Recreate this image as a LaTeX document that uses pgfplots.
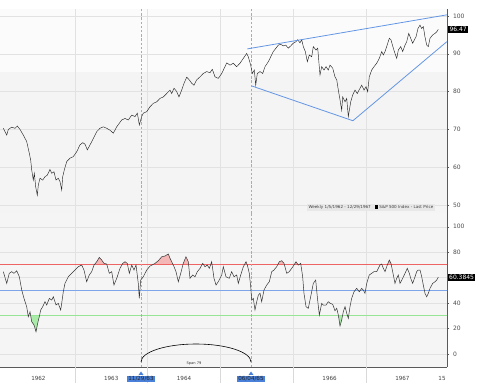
\documentclass[border=0pt]{standalone}
\usepackage{pgfplots}
\usepackage{pgfplotstable}
\pgfplotsset{compat=1.18}
\usepackage{fontspec}
\setmainfont{DejaVu Sans}
\definecolor{trend}{RGB}{100,150,228}
\definecolor{gridc}{RGB}{226,226,226}
\definecolor{boxblue}{RGB}{72,128,218}
\definecolor{rline}{RGB}{238,100,100}
\definecolor{bline}{RGB}{125,165,232}
\definecolor{rfill}{RGB}{245,182,182}
\definecolor{gfill}{RGB}{170,235,170}
\definecolor{axc}{RGB}{90,90,90}

\pgfplotstableread{
x y
1962.018 70.3
1962.065 68.5
1962.087 70.0
1962.133 70.6
1962.179 70.3
1962.210 70.9
1962.247 70.0
1962.293 68.5
1962.339 66.8
1962.375 63.7
1962.394 61.9
1962.408 59.3
1962.430 56.6
1962.444 58.4
1962.463 54.8
1962.485 52.6
1962.499 55.3
1962.522 57.1
1962.559 56.6
1962.591 57.5
1962.622 57.9
1962.659 59.4
1962.683 58.4
1962.714 58.8
1962.742 56.6
1962.773 57.1
1962.797 56.2
1962.820 54.0
1962.834 57.5
1962.856 59.3
1962.889 61.5
1962.934 62.4
1962.979 62.8
1963.026 64.1
1963.071 65.9
1963.109 66.5
1963.140 66.1
1963.172 64.6
1963.209 65.9
1963.254 67.6
1963.301 69.4
1963.346 70.3
1963.391 70.7
1963.438 70.3
1963.484 69.8
1963.529 69.0
1963.576 70.7
1963.644 72.5
1963.690 72.9
1963.735 72.5
1963.782 73.8
1963.827 73.4
1963.859 74.3
1963.886 71.2
1963.919 73.4
1963.941 74.3
1963.988 74.7
1964.033 76.0
1964.078 76.9
1964.125 77.3
1964.170 78.2
1964.216 78.6
1964.262 79.5
1964.308 80.4
1964.331 79.5
1964.363 80.9
1964.400 80.0
1964.431 78.6
1964.468 80.4
1964.500 82.2
1964.537 83.8
1964.573 83.1
1964.606 82.2
1964.637 81.7
1964.674 83.1
1964.720 83.9
1964.765 84.8
1964.812 85.3
1964.857 85.0
1964.889 85.9
1964.926 83.9
1964.971 83.5
1965.018 84.8
1965.063 86.6
1965.087 87.6
1965.132 87.0
1965.177 87.5
1965.224 86.6
1965.269 87.5
1965.315 88.8
1965.361 90.1
1965.383 89.2
1965.416 87.0
1965.438 84.8
1965.466 85.7
1965.485 81.7
1965.507 84.8
1965.544 85.3
1965.581 84.8
1965.613 86.6
1965.658 87.9
1965.691 89.2
1965.727 90.6
1965.764 91.5
1965.795 92.3
1965.828 92.5
1965.864 92.1
1965.897 92.3
1965.933 91.5
1965.966 92.1
1966.001 92.8
1966.038 93.2
1966.062 93.7
1966.093 92.9
1966.117 93.7
1966.139 91.9
1966.166 90.6
1966.194 87.9
1966.221 89.7
1966.254 89.2
1966.276 91.9
1966.313 91.0
1966.337 91.5
1966.354 87.5
1966.368 84.4
1966.391 86.6
1966.423 85.7
1966.451 86.6
1966.482 85.7
1966.505 87.0
1966.543 86.2
1966.574 83.9
1966.598 83.1
1966.620 80.4
1966.643 77.8
1966.666 75.1
1966.680 78.6
1966.712 77.3
1966.735 78.2
1966.757 73.4
1966.771 75.1
1966.790 77.3
1966.817 79.1
1966.849 80.4
1966.880 79.5
1966.918 80.9
1966.941 81.7
1966.973 80.4
1967.000 81.3
1967.023 80.0
1967.045 83.9
1967.078 85.7
1967.110 86.6
1967.147 87.5
1967.183 88.8
1967.216 90.6
1967.238 89.7
1967.261 90.6
1967.284 91.9
1967.320 94.1
1967.343 93.7
1967.375 91.5
1967.398 90.1
1967.422 88.8
1967.444 91.0
1967.477 91.9
1967.504 90.6
1967.536 92.3
1967.559 93.2
1967.587 95.4
1967.614 94.1
1967.641 92.8
1967.664 93.7
1967.687 94.5
1967.714 96.7
1967.742 97.6
1967.765 96.7
1967.787 97.2
1967.810 94.5
1967.834 92.3
1967.856 91.9
1967.879 94.1
1967.916 95.0
1967.948 95.4
1967.971 95.8
1967.993 96.47
}\pricetable

\pgfplotstableread{
x y
1962.018 64.7
1962.065 55.5
1962.100 63.4
1962.133 64.7
1962.165 63.4
1962.202 65.4
1962.238 60.7
1962.271 50.3
1962.302 43.7
1962.339 37.2
1962.361 29.3
1962.385 33.2
1962.408 25.4
1962.440 22.8
1962.467 17.5
1962.490 24.1
1962.512 29.3
1962.532 34.6
1962.559 37.2
1962.591 41.1
1962.614 38.5
1962.650 43.7
1962.683 42.4
1962.705 45.0
1962.742 38.5
1962.773 39.8
1962.806 34.6
1962.820 39.8
1962.842 48.9
1962.865 55.5
1962.911 60.7
1962.957 63.4
1963.003 66.0
1963.048 68.6
1963.095 69.9
1963.126 66.0
1963.163 56.8
1963.199 62.1
1963.232 64.7
1963.264 69.9
1963.301 72.5
1963.337 75.9
1963.370 73.8
1963.401 71.2
1963.438 70.7
1963.474 63.4
1963.507 64.7
1963.538 54.2
1963.576 59.5
1963.621 67.3
1963.658 71.2
1963.690 72.5
1963.721 71.2
1963.749 63.4
1963.782 69.9
1963.813 66.0
1963.841 69.9
1963.872 55.5
1963.886 43.7
1963.905 58.1
1963.941 60.7
1963.988 66.0
1964.033 69.1
1964.102 71.2
1964.147 73.3
1964.194 76.4
1964.239 77.0
1964.262 77.8
1964.284 78.6
1964.308 75.2
1964.331 72.5
1964.363 68.6
1964.390 64.7
1964.422 56.8
1964.455 63.4
1964.490 71.2
1964.527 76.4
1964.559 72.5
1964.582 59.5
1964.620 62.1
1964.651 60.7
1964.683 64.7
1964.720 67.3
1964.757 71.2
1964.788 68.6
1964.820 69.9
1964.848 67.3
1964.880 72.5
1964.912 59.5
1964.940 54.2
1964.971 56.8
1965.018 62.1
1965.040 68.6
1965.077 60.7
1965.122 59.5
1965.155 64.7
1965.187 60.7
1965.224 62.1
1965.246 55.5
1965.279 62.1
1965.315 68.6
1965.352 72.5
1965.370 69.9
1965.397 63.4
1965.416 52.9
1965.430 42.4
1965.452 43.7
1965.475 34.6
1965.499 41.1
1965.521 46.3
1965.544 47.7
1965.567 41.1
1965.599 50.3
1965.636 54.2
1965.672 56.8
1965.705 64.7
1965.736 66.0
1965.773 68.6
1965.809 72.5
1965.842 73.3
1965.874 71.2
1965.911 63.4
1965.946 64.7
1965.979 67.3
1966.011 69.9
1966.038 72.5
1966.070 69.9
1966.103 71.2
1966.130 60.7
1966.148 47.7
1966.176 37.2
1966.207 35.9
1966.240 45.0
1966.276 55.5
1966.309 58.1
1966.331 45.0
1966.359 30.6
1966.391 39.8
1966.413 38.5
1966.451 38.5
1966.482 41.1
1966.505 40.0
1966.543 39.0
1966.574 34.0
1966.598 35.9
1966.620 30.6
1966.643 22.0
1966.666 26.7
1966.688 33.2
1966.712 37.2
1966.735 32.0
1966.757 28.0
1966.780 37.2
1966.803 43.7
1966.835 48.9
1966.872 51.6
1966.908 48.9
1966.941 51.6
1966.963 50.3
1966.986 47.7
1967.010 55.5
1967.045 62.1
1967.078 63.4
1967.110 64.7
1967.147 64.7
1967.169 67.3
1967.192 69.9
1967.216 70.7
1967.238 67.3
1967.261 64.7
1967.292 69.9
1967.320 73.8
1967.343 71.2
1967.366 64.7
1967.398 55.5
1967.422 59.5
1967.444 62.1
1967.467 55.5
1967.504 59.5
1967.536 63.4
1967.567 67.3
1967.595 63.4
1967.614 59.5
1967.641 55.5
1967.673 60.7
1967.696 64.7
1967.718 66.0
1967.742 66.0
1967.765 60.7
1967.787 54.2
1967.810 47.7
1967.834 45.0
1967.856 47.7
1967.879 51.6
1967.916 55.5
1967.948 56.8
1967.971 58.1
1967.993 60.38
}\rsitable

\pgfplotsset{
  base/.style={
    scale only axis, width=447pt,
    xmin=1961.9725, xmax=1968.1126,
    axis x line*=bottom, axis y line*=right,
    ytick pos=right, yticklabel pos=right,
    axis line style={-, axc, line width=0.7pt},
    xtick={1963,1964,1965,1966,1967},
    xticklabels={},
    xtick style={draw=none},
    xmajorgrids, ymajorgrids,
    grid style={gridc, line width=0.4pt},
    ytick style={axc, line width=0.4pt},
    major tick length=2.5pt,
    tick align=outside,
    yticklabel style={font=\fontsize{6}{7}\selectfont, text=black!70},
    /pgf/number format/assume math mode=true,
  },
  vdash/.style={draw={rgb,255:red,135;green,178;blue,240}, dash pattern=on 2.4pt off 1.8pt, line width=0.8pt, forget plot},
}

\begin{document}
\begin{tikzpicture}
\useasboundingbox (0pt,0pt) rectangle (479pt,388pt);

% ---------- price panel ----------
\begin{axis}[base, at={(0pt,175pt)}, anchor=south west, height=204pt,
  ymin=47.9, ymax=101.85, ytick={50,60,...,100},
  axis background/.style={fill=black!4.5},
]
\fill[black!1.5] (axis cs:1961.9725,85.1) rectangle (axis cs:1968.1126,101.85);
\draw[gridc, line width=0.4pt] (axis cs:1961.9725,90) -- (axis cs:1968.1126,90);
\draw[gridc, line width=0.4pt] (axis cs:1961.9725,100) -- (axis cs:1968.1126,100);
\draw[gridc, line width=0.4pt] (axis cs:1963,85.1) -- (axis cs:1963,101.85);
\draw[gridc, line width=0.4pt] (axis cs:1964,85.1) -- (axis cs:1964,101.85);
\draw[gridc, line width=0.4pt] (axis cs:1965,85.1) -- (axis cs:1965,101.85);
\draw[gridc, line width=0.4pt] (axis cs:1966,85.1) -- (axis cs:1966,101.85);
\draw[gridc, line width=0.4pt] (axis cs:1967,85.1) -- (axis cs:1967,101.85);
\addplot[vdash] coordinates {(1963.91,47.9) (1963.91,101.85)};
\addplot[vdash] coordinates {(1965.42,47.9) (1965.42,101.85)};
\addplot[black!85, line width=0.45pt] table[x=x,y=y] {\pricetable};
\addplot[trend, line width=0.8pt] coordinates {(1965.37,91.3) (1968.11,100.3)};
\addplot[trend, line width=0.8pt] coordinates {(1965.43,81.5) (1966.82,72.3) (1968.11,93.2)};
\end{axis}

% ---------- RSI panel ----------
\begin{axis}[base, at={(0pt,21pt)}, anchor=south west, height=154pt,
  ymin=-10.2, ymax=110.8, ytick={0,20,40,60,80,100},
  yticklabels={0,20,40,,80,100},
  axis background/.style={fill=black!4},
  extra x ticks={1962.5,1963.5,1964.5,1966.5,1967.5},
  extra x tick labels={1962,1963,1964,1966,1967},
  extra x tick style={grid=none, tick label style={font=\fontsize{5.6}{6.5}\selectfont, text=black!75, yshift=-3.5pt}},
]
\begin{scope}
\clip (axis cs:1961.9,70) rectangle (axis cs:1968.2,115);
\addplot[draw=none, fill=rfill] table[x=x,y=y] {\rsitable} \closedcycle;
\end{scope}
\begin{scope}
\clip (axis cs:1961.9,-15) rectangle (axis cs:1968.2,30);
\addplot[draw=none, fill=gfill] table[x=x,y=y] {\rsitable} -- (axis cs:1968.2,115) -- (axis cs:1961.9,115) -- cycle;
\end{scope}
\addplot[rline, line width=1pt] coordinates {(1961.9,70) (1968.2,70)};
\addplot[bline, line width=0.7pt] coordinates {(1961.9,50) (1968.2,50)};
\addplot[draw={rgb,255:red,150;green,228;blue,150}, line width=1pt] coordinates {(1961.9,30) (1968.2,30)};
\addplot[vdash] coordinates {(1963.91,-10.2) (1963.91,110.8)};
\addplot[vdash] coordinates {(1965.42,-10.2) (1965.42,110.8)};
\addplot[black!80, line width=0.5pt] table[x=x,y=y] {\rsitable};
\end{axis}

% ---------- annotations ----------
\foreach \xx in {74.8,147.6,220.4,293.2,366.0}{
  \draw[black!15, line width=0.5pt] (\xx pt,21pt) -- (\xx pt,5pt);
}
\draw[black, line width=0.6pt] (141pt,26pt) arc[start angle=180, end angle=0, x radius=55pt, y radius=18pt];
\node[font=\fontsize{3.6}{4}\selectfont, text=black!80] at (194pt,24.5pt) {Span 79};
\fill[boxblue] (138.5pt,13pt) -- (143.5pt,13pt) -- (141pt,16.5pt) -- cycle;
\node[fill=boxblue, text=black!85, inner xsep=1.2pt, inner ysep=1pt, font=\fontsize{5.6}{6}\selectfont] at (141pt,9pt) {11/29/63};
\fill[boxblue] (248.5pt,13pt) -- (253.5pt,13pt) -- (251pt,16.5pt) -- cycle;
\node[fill=boxblue, text=black!85, inner xsep=1.2pt, inner ysep=1pt, font=\fontsize{5.6}{6}\selectfont] at (251pt,9pt) {06/04/65};
\node[font=\fontsize{5.6}{6}\selectfont, text=black!75] at (442pt,10pt) {15};
\node[fill=black!9, inner xsep=2pt, inner ysep=1.6pt, font=\fontsize{4.1}{5}\selectfont, text=black!75] at (371pt,180.5pt) {Weekly 1/5/1962 - 12/29/1967\quad{\color{black}\rule{3.2pt}{3.2pt}} S\&P 500 Index - Last Price};
\node[fill=black, text=white, anchor=west, inner xsep=1.5pt, inner ysep=1.2pt, font=\fontsize{6}{7}\selectfont] at (447.8pt,358.7pt) {96.47};
\node[fill=black, text=white, anchor=west, inner xsep=1.2pt, inner ysep=1.2pt, font=\fontsize{6}{7}\selectfont] at (447.8pt,110.8pt) {60.3845};
\end{tikzpicture}
\end{document}
